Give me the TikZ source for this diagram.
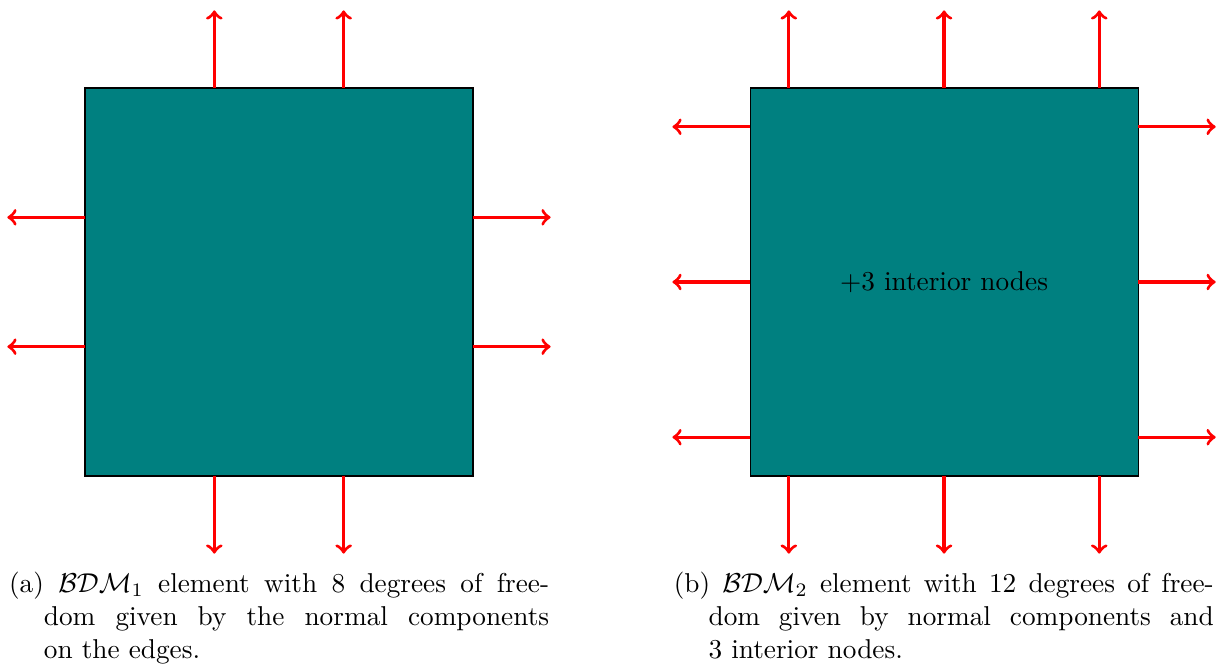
\documentclass[tikz,border=0pt]{standalone}
\usetikzlibrary{calc}
\begin{document}
\begin{tikzpicture}[
  elem/.style={draw=black, fill=teal, minimum size=5cm, inner sep=0pt, outer sep=0pt, anchor=south west},
  dof/.style={->, red, very thick},
  capt/.style={anchor=north west, inner sep=0pt, text width=198pt, align=justify, font=\normalsize}
]
\useasboundingbox (-1.095,-2.5) rectangle (14.60,6.134);
% left element
\node[elem] (A) at (0,0) {};
\foreach \f in {1/3,2/3}{
  \draw[dof] ($(A.north west)!\f!(A.north east)$) -- ++(0,1);
  \draw[dof] ($(A.south west)!\f!(A.south east)$) -- ++(0,-1);
  \draw[dof] ($(A.south west)!\f!(A.north west)$) -- ++(-1,0);
  \draw[dof] ($(A.south east)!\f!(A.north east)$) -- ++(1,0);
}
% right element
\node[elem] (B) at (8.57,0) {};
\node at (B.center) {$+3$ interior nodes};
\foreach \f in {0.1,0.5,0.9}{
  \draw[dof] ($(B.north west)!\f!(B.north east)$) -- ++(0,1);
  \draw[dof] ($(B.south west)!\f!(B.south east)$) -- ++(0,-1);
  \draw[dof] ($(B.south west)!\f!(B.north west)$) -- ++(-1,0);
  \draw[dof] ($(B.south east)!\f!(B.north east)$) -- ++(1,0);
}
% captions
\node[capt] (ca) at (-0.985,-1.235) {\hangindent=12.78pt\hangafter=1 \noindent(a) $\mathcal{BDM}_1$ element with 8 degrees of free-\linebreak dom given by the normal components\linebreak on the edges.\par};
\node[capt] (cb) at (7.58,-1.235) {\hangindent=12.78pt\hangafter=1 \noindent(b) $\mathcal{BDM}_2$ element with 12 degrees of free-\linebreak dom given by normal components and\linebreak 3 interior nodes.\par};
\end{tikzpicture}
\end{document}
